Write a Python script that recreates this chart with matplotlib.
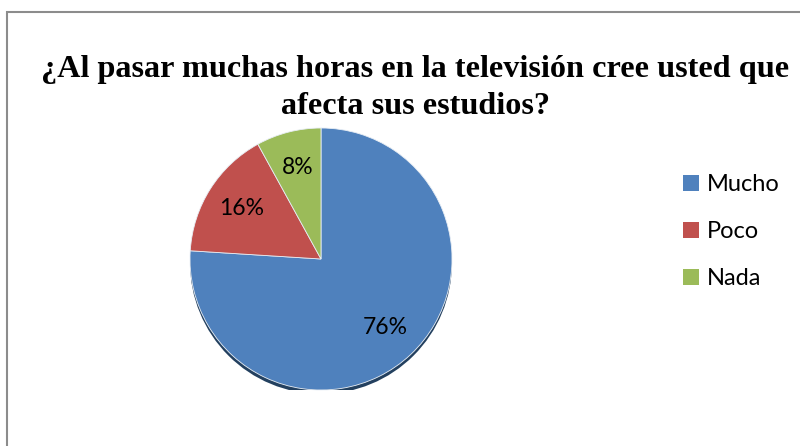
import matplotlib
matplotlib.use("Agg")
import numpy as np
import matplotlib.pyplot as plt
from matplotlib.patches import Rectangle, Circle, Patch

# ******************** DATA ********************
categories = ["Mucho", "Poco", "Nada"]
values = [76, 16, 8]
pct_labels = ["76%", "16%", "8%"]
colors = ["#4F81BD", "#C0504D", "#9BBB59"]
title = "¿Al pasar muchas horas en la televisión cree usted que\nafecta sus estudios?"

# ******************** FIGURE ********************
W, H = 800, 446
fig = plt.figure(figsize=(W / 100, H / 100), dpi=100)
fig.patch.set_facecolor("white")

# outer chart border (cut by the image on the right and bottom)
fig.patches.append(Rectangle((7 / W, -0.1), 1.2, 1 - 12 / H + 0.1, transform=fig.transFigure,
                             fill=False, edgecolor="#8C8C8C", linewidth=1.5))

# ******************** TITLE ********************
fig.text(415 / W, 1 - 88 / H, title, ha="center", va="center", fontsize=23.2,
         fontweight="bold", family="Liberation Serif", linespacing=1.4)

# ******************** PIE ********************
cx, cy, r = 321, 259, 131
ax = fig.add_axes([(cx - r) / W, (H - cy - r) / H, 2 * r / W, 2 * r / H])
ax.axis("off")

# dark rim under the pie for the 3D look
ax.add_patch(Circle((0, -0.03), 1.0, facecolor="#23405F", edgecolor="none", zorder=0))

wedges, texts = ax.pie(values, colors=colors, startangle=90, counterclock=False, radius=1.0,
                       wedgeprops=dict(linewidth=0.6, edgecolor="#E8EEF5"))
for w in wedges:
    w.set_zorder(1)
for w, lab in zip(wedges, pct_labels):
    ang = np.deg2rad((w.theta1 + w.theta2) / 2)
    ax.text(0.72 * np.cos(ang), 0.72 * np.sin(ang), lab, ha="center", va="center",
            fontsize=16.5, family="Lato", color="black", zorder=3)
ax.set_xlim(-1, 1)
ax.set_ylim(-1, 1)

# ******************** LEGEND ********************
handles = [Patch(facecolor=c, edgecolor="none") for c in colors]
fig.legend(handles, categories, loc="upper left", bbox_to_anchor=(662 / W, 1 - 153 / H),
           frameon=False, prop=dict(family="Lato", size=17), handlelength=0.65, handleheight=0.65,
           handletextpad=0.35, labelspacing=1.1)

fig.savefig("out.png", dpi=100)
